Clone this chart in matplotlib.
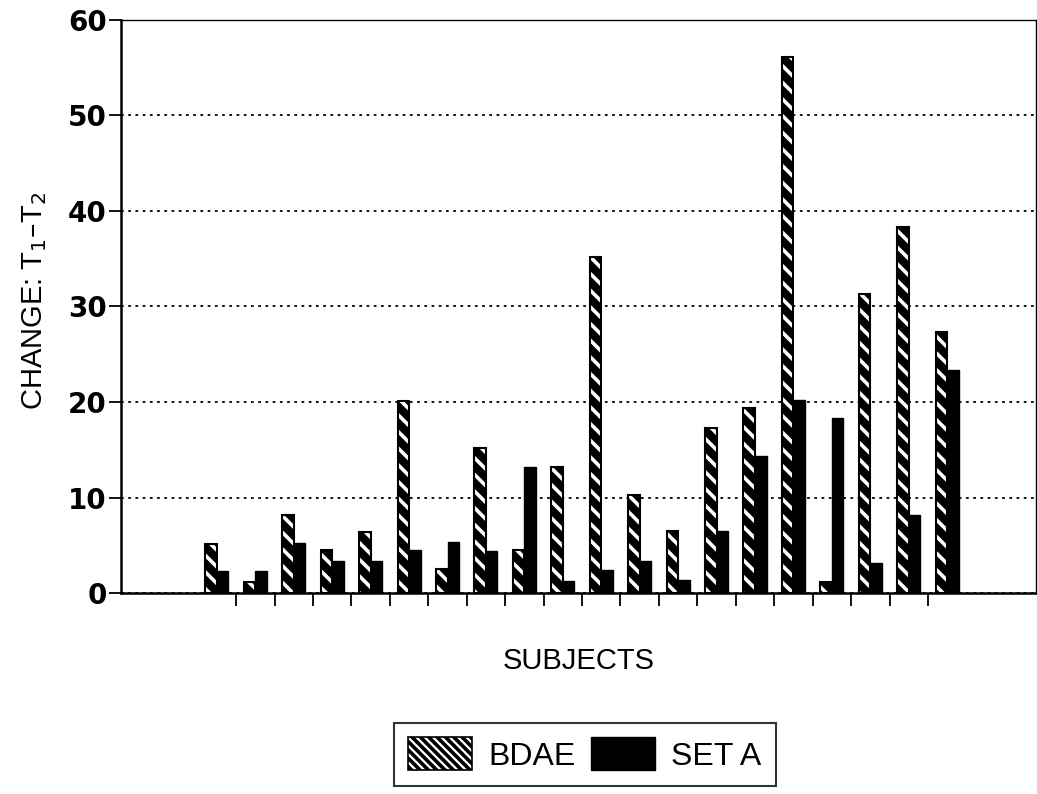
import numpy as np
import matplotlib
matplotlib.use("Agg")
import matplotlib.pyplot as plt
from matplotlib.patches import Patch

# values, one pair per subject
subjects = list(range(1, 21))
bdae = [5.1, 1.2, 8.2, 4.5, 6.4, 20.1, 2.5, 15.2, 4.5, 13.2,
        35.2, 10.3, 6.5, 17.3, 19.4, 56.1, 1.2, 31.3, 38.3, 27.3]
set_a = [2.3, 2.3, 5.2, 3.4, 3.4, 4.5, 5.4, 4.4, 13.2, 1.3,
         2.4, 3.4, 1.4, 6.5, 14.3, 20.2, 18.3, 3.2, 8.2, 23.3]
y_ticks = [0, 10, 20, 30, 40, 50, 60]

plt.rcParams['font.family'] = ['Liberation Sans', 'DejaVu Sans']
plt.rcParams['hatch.linewidth'] = 2.6

fig = plt.figure(figsize=(10.37, 7.94), dpi=100)
ax = fig.add_axes([0.1165, 0.253, 0.8825, 0.722])

# groups start after two empty slots
pos = np.arange(len(subjects)) + 2.5
w = 0.3

# hatched bars: black fill, white stripes, then a black outline on top
ax.bar(pos - w / 2, bdae, w, color='black', edgecolor='white',
       hatch='\\\\', linewidth=0, zorder=3)
ax.bar(pos - w / 2, bdae, w, fill=False, edgecolor='black',
       linewidth=1.5, zorder=4)
ax.bar(pos + w / 2, set_a, w, color='black', edgecolor='black',
       linewidth=1.0, zorder=3)

ax.set_xlim(0, 23.81)
ax.set_ylim(0, 60)
ax.set_yticks(y_ticks)
ax.set_yticklabels([str(t) for t in y_ticks], fontsize=20, fontweight='bold',
                   family='DejaVu Sans')
ax.set_xticks(np.arange(3, len(subjects) + 2))
ax.set_xticklabels([])
ax.tick_params(axis='both', direction='out', length=9, width=1.3, color='black')
ax.tick_params(axis='y', pad=1)

ax.yaxis.grid(True, linestyle=(0, (1.5, 2.5)), color='black', linewidth=1.3)
ax.set_axisbelow(True)

for side in ['left', 'bottom']:
    ax.spines[side].set_linewidth(1.8)
for side in ['top', 'right']:
    ax.spines[side].set_linewidth(1.0)

ax.set_ylabel('CHANGE: T$_1$\u2013T$_2$', fontsize=21)
ax.yaxis.set_label_coords(-0.078, 0.51)
ax.set_xlabel('SUBJECTS', fontsize=21, labelpad=26)

handles = [Patch(facecolor='white', edgecolor='black', hatch='\\\\\\\\', linewidth=1.2),
           Patch(facecolor='black', edgecolor='black')]
leg = fig.legend(handles, ['BDAE', 'SET A'], loc='lower center',
                 bbox_to_anchor=(0.564, 0.002), ncol=2, fontsize=23,
                 frameon=True, fancybox=False, edgecolor='black',
                 handlelength=2.0, handleheight=1.2, columnspacing=0.5,
                 handletextpad=0.5, borderpad=0.45, borderaxespad=0.2)
leg.get_frame().set_linewidth(1.5)

fig.savefig('out.png', dpi=100)
